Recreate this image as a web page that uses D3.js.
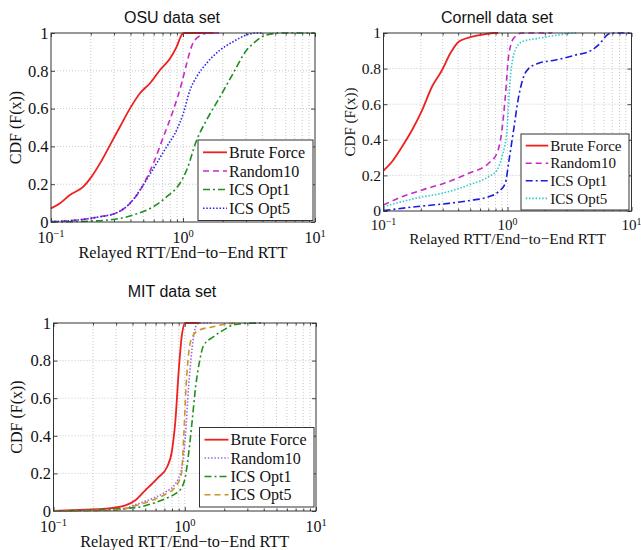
<!DOCTYPE html>
<html>
<head>
<meta charset="utf-8">
<script src="https://cdn.jsdelivr.net/npm/d3@7"></script>
<style>
  body { margin: 0; background: #fff; }
  svg { display: block; }
</style>
</head>
<body>
<div id="chart"></div>
<script>
const seriesNames = ["Brute Force", "Random10", "ICS Opt1", "ICS Opt5"];
const panelTitles = ["OSU data set", "Cornell data set", "MIT data set"];
const xLabel = "Relayed RTT/End\u2212to\u2212End RTT";
const yLabel = "CDF (F(x))";
const xTickValues = [0.1, 1, 10];
const xTickExponents = ["\u22121", "0", "1"];
const yTickValues = [0, 0.2, 0.4, 0.6, 0.8, 1];

// OSU curves, [ratio, cdf]
const osuBrute = [[0.1,0.072],[0.117,0.099],[0.139,0.143],[0.176,0.187],[0.203,0.24],[0.235,0.31],[0.28,0.407],[0.333,0.504],[0.397,0.601],[0.472,0.681],[0.562,0.734],[0.67,0.804],[0.80,0.866],[0.896,0.928],[0.977,0.99],[1.02,1.0],[1.7,1.0]];
const osuRandom = [[0.1,0.002],[0.176,0.014],[0.235,0.028],[0.315,0.049],[0.397,0.099],[0.50,0.196],[0.596,0.31],[0.71,0.45],[0.845,0.593],[0.977,0.734],[1.067,0.84],[1.16,0.928],[1.31,0.98],[1.6,1.0],[2.0,1.0]];
const osuOpt1 = [[0.1,0.0],[0.235,0.007],[0.42,0.037],[0.596,0.081],[0.753,0.134],[0.948,0.205],[1.067,0.275],[1.27,0.434],[1.51,0.54],[1.91,0.663],[2.40,0.787],[3.04,0.91],[3.41,0.945],[4.3,0.99],[5.7,1.0],[10,1.0]];
const osuOpt5 = [[0.1,0.002],[0.176,0.014],[0.235,0.028],[0.315,0.049],[0.397,0.099],[0.50,0.196],[0.63,0.31],[0.753,0.399],[0.896,0.487],[1.006,0.575],[1.13,0.698],[1.27,0.769],[1.51,0.84],[1.91,0.91],[2.40,0.954],[3.04,0.99],[3.6,1.0],[4.0,1.0]];

// Cornell curves
const cornellBrute = [[0.1,0.227],[0.117,0.277],[0.141,0.361],[0.17,0.455],[0.205,0.567],[0.246,0.698],[0.297,0.792],[0.346,0.886],[0.404,0.951],[0.518,0.979],[0.663,0.994],[0.78,1.0],[0.84,1.0]];
const cornellRandom = [[0.1,0.034],[0.141,0.08],[0.205,0.118],[0.336,0.165],[0.486,0.212],[0.705,0.268],[0.822,0.324],[0.902,0.455],[0.96,0.642],[1.02,0.867],[1.12,0.97],[1.31,1.0],[2.3,1.0]];
const cornellOpt1 = [[0.1,0.002],[0.181,0.024],[0.336,0.043],[0.486,0.058],[0.705,0.08],[0.848,0.109],[0.96,0.155],[1.02,0.268],[1.12,0.455],[1.23,0.642],[1.35,0.755],[1.48,0.80],[1.78,0.83],[2.43,0.848],[3.52,0.876],[4.79,0.904],[5.42,0.933],[6.52,0.994],[7.0,1.0],[10,1.0]];
const cornellOpt5 = [[0.1,0.024],[0.181,0.071],[0.336,0.109],[0.486,0.146],[0.705,0.193],[0.822,0.23],[0.902,0.305],[0.99,0.455],[1.05,0.736],[1.156,0.904],[1.31,0.951],[1.78,0.97],[2.58,0.989],[3.52,1.0],[3.6,1.0]];

// MIT curves
const mitBrute = [[0.1,0.0],[0.175,0.007],[0.249,0.012],[0.353,0.03],[0.421,0.057],[0.50,0.11],[0.564,0.145],[0.634,0.181],[0.733,0.234],[0.80,0.323],[0.849,0.482],[0.90,0.748],[0.954,0.943],[1.01,1.0],[1.3,1.0]];
const mitRandom = [[0.1,0.0],[0.314,0.007],[0.421,0.034],[0.564,0.066],[0.713,0.101],[0.849,0.145],[0.954,0.234],[1.01,0.394],[1.07,0.66],[1.14,0.872],[1.21,0.979],[1.29,1.0],[1.6,1.0]];
const mitOpt1 = [[0.1,0.0],[0.421,0.018],[0.564,0.039],[0.713,0.066],[0.849,0.092],[0.954,0.128],[1.01,0.181],[1.07,0.305],[1.14,0.482],[1.21,0.66],[1.30,0.80],[1.39,0.88],[1.65,0.926],[2.0,0.965],[2.35,0.99],[3.0,0.998],[4.0,1.0]];
const mitOpt5 = [[0.1,0.0],[0.314,0.005],[0.421,0.028],[0.564,0.057],[0.713,0.089],[0.849,0.128],[0.943,0.199],[0.982,0.394],[1.023,0.66],[1.07,0.837],[1.14,0.926],[1.28,0.961],[1.61,0.979],[2.16,0.996],[2.6,1.0]];

const width = 641;
const height = 550;
const serif = "'Liberation Serif', 'Times New Roman', serif";
const sans = "'Liberation Sans', Arial, Helvetica, sans-serif";

const panels = [
  {
    title: panelTitles[0],
    data: [osuBrute, osuRandom, osuOpt1, osuOpt5],
    styles: [
      { color: "#ee2020", dash: null },
      { color: "#c52cc5", dash: "6,4" },
      { color: "#1f8f1f", dash: "7,3,2,3" },
      { color: "#2626ee", dash: "1.5,1.8" }
    ],
    box: { x0: 51, x1: 315, y0: 33, y1: 222 },
    s: 1, titleX: 172, titleY: 23, ylabX: 21,
    legend: { x0: 198, y0: 140, x1: 313, y1: 220.5 }
  },
  {
    title: panelTitles[1],
    data: [cornellBrute, cornellRandom, cornellOpt1, cornellOpt5],
    styles: [
      { color: "#ee2020", dash: null },
      { color: "#c52cc5", dash: "6,4" },
      { color: "#1c1ce0", dash: "7,3,2,3" },
      { color: "#2ccccc", dash: "1.5,1.8" }
    ],
    box: { x0: 383.5, x1: 631.5, y0: 33, y1: 211 },
    s: 0.94, titleX: 497, titleY: 23, ylabX: 355,
    legend: { x0: 521, y0: 134, x1: 629, y1: 210 }
  },
  {
    title: panelTitles[2],
    data: [mitBrute, mitRandom, mitOpt1, mitOpt5],
    styles: [
      { color: "#ee2020", dash: null },
      { color: "#9a6ae6", dash: "1.5,1.8" },
      { color: "#1f8f1f", dash: "7,3,2,3" },
      { color: "#cf9428", dash: "6,4" }
    ],
    box: { x0: 53.5, x1: 316, y0: 323, y1: 511 },
    s: 1, titleX: 172, titleY: 297, ylabX: 22,
    legend: { x0: 199.5, y0: 427.5, x1: 314, y1: 507 }
  }
];

const svg = d3.select("#chart")
  .append("svg")
  .attr("width", width)
  .attr("height", height);

function drawPanel(p) {
  const b = p.box;
  const s = p.s;

  const x = d3.scaleLog().domain([0.1, 10]).range([b.x0, b.x1]);
  const y = d3.scaleLinear().domain([0, 1]).range([b.y1, b.y0]);

  const g = svg.append("g");

  // dotted grid, at every log tick inside the box
  const xGrid = x.ticks().filter(v => v > 0.1 && v < 10);
  g.selectAll(".xgrid")
    .data(xGrid)
    .enter()
    .append("line")
    .attr("x1", d => x(d)).attr("x2", d => x(d))
    .attr("y1", b.y0).attr("y2", b.y1)
    .attr("stroke", "#bdbdbd")
    .attr("stroke-width", 0.8)
    .attr("stroke-dasharray", "1,2");

  g.selectAll(".ygrid")
    .data(yTickValues.filter(v => v > 0 && v < 1))
    .enter()
    .append("line")
    .attr("x1", b.x0).attr("x2", b.x1)
    .attr("y1", d => y(d)).attr("y2", d => y(d))
    .attr("stroke", "#bdbdbd")
    .attr("stroke-width", 0.8)
    .attr("stroke-dasharray", "1,2");

  // inner tick marks on all four sides
  const minor = x.ticks().filter(v => xTickValues.indexOf(v) < 0);
  const tickAxes = [
    [d3.axisBottom(x).tickValues(xTickValues).tickSize(-4), `translate(0,${b.y1})`],
    [d3.axisBottom(x).tickValues(minor).tickSize(-2.5), `translate(0,${b.y1})`],
    [d3.axisTop(x).tickValues(xTickValues).tickSize(-4), `translate(0,${b.y0})`],
    [d3.axisTop(x).tickValues(minor).tickSize(-2.5), `translate(0,${b.y0})`],
    [d3.axisRight(y).tickValues(yTickValues).tickSize(-4), `translate(${b.x1},0)`]
  ];
  tickAxes.forEach(([ax, tr]) => {
    const a = g.append("g").attr("transform", tr).call(ax.tickFormat(""));
    a.select(".domain").remove();
    a.selectAll("line").attr("stroke", "#444");
  });

  const yAxis = g.append("g")
    .attr("transform", `translate(${b.x0},0)`)
    .call(d3.axisLeft(y)
      .tickValues(yTickValues)
      .tickSize(-4)
      .tickPadding(2.5)
      .tickFormat(d => (d === 0 || d === 1) ? String(d) : d3.format(".1f")(d)));
  yAxis.select(".domain").remove();
  yAxis.selectAll("line").attr("stroke", "#444");
  yAxis.selectAll("text")
    .style("font-family", serif)
    .style("font-size", (16.5 * s) + "px")
    .attr("fill", "#111");

  // 10^n labels under the x axis
  const xl = g.selectAll(".xtick-label")
    .data(xTickValues)
    .enter()
    .append("text")
    .attr("x", d => x(d))
    .attr("y", b.y1 + 20.5 * s)
    .attr("text-anchor", "middle")
    .style("font-family", serif)
    .style("font-size", (16 * s) + "px")
    .attr("fill", "#111");
  xl.append("tspan").text("10");
  xl.append("tspan")
    .attr("dy", -6 * s)
    .style("font-size", (10.5 * s) + "px")
    .text((d, i) => xTickExponents[i]);

  // curves
  const line = d3.line()
    .x(d => x(d[0]))
    .y(d => y(d[1]))
    .curve(d3.curveMonotoneX);

  p.data.forEach((series, i) => {
    const st = p.styles[i];
    g.append("path")
      .datum(series)
      .attr("fill", "none")
      .attr("stroke", st.color)
      .attr("stroke-width", i === 0 ? 1.8 : 1.6)
      .attr("stroke-dasharray", st.dash)
      .attr("d", line);
  });

  // axes box
  g.append("rect")
    .attr("x", b.x0).attr("y", b.y0)
    .attr("width", b.x1 - b.x0).attr("height", b.y1 - b.y0)
    .attr("fill", "none")
    .attr("stroke", "#333")
    .attr("stroke-width", 1);

  // legend
  const L = p.legend;
  g.append("rect")
    .attr("x", L.x0).attr("y", L.y0)
    .attr("width", L.x1 - L.x0).attr("height", L.y1 - L.y0)
    .attr("fill", "#fff")
    .attr("stroke", "#333")
    .attr("stroke-width", 1);

  const rowStep = (L.y1 - L.y0 - 6 * s) / 4;
  const rows = g.selectAll(".legend-row")
    .data(seriesNames)
    .enter()
    .append("g")
    .attr("transform", (d, i) => `translate(${L.x0},${L.y0 + 3 * s + rowStep * (i + 0.5)})`);

  rows.append("line")
    .attr("x1", 5 * s).attr("x2", 29 * s)
    .attr("y1", 0).attr("y2", 0)
    .attr("stroke", (d, i) => p.styles[i].color)
    .attr("stroke-width", (d, i) => i === 0 ? 1.8 : 1.6)
    .attr("stroke-dasharray", (d, i) => p.styles[i].dash);

  rows.append("text")
    .attr("x", 31 * s)
    .attr("dy", "0.35em")
    .style("font-family", serif)
    .style("font-size", (16 * s) + "px")
    .attr("fill", "#111")
    .text(d => d);

  // titles and axis labels
  g.append("text")
    .attr("x", p.titleX)
    .attr("y", p.titleY)
    .attr("text-anchor", "middle")
    .style("font-family", sans)
    .style("font-size", "16px")
    .attr("fill", "#111")
    .text(p.title);

  g.append("text")
    .attr("x", (b.x0 + b.x1) / 2)
    .attr("y", b.y1 + 35.5 * s)
    .attr("text-anchor", "middle")
    .style("font-family", serif)
    .style("font-size", (16.3 * s) + "px")
    .attr("fill", "#111")
    .text(xLabel);

  g.append("text")
    .attr("transform", `translate(${p.ylabX},${(b.y0 + b.y1) / 2}) rotate(-90)`)
    .attr("text-anchor", "middle")
    .style("font-family", serif)
    .style("font-size", (16 * s) + "px")
    .attr("fill", "#111")
    .text(yLabel);
}

panels.forEach(drawPanel);
</script>
</body>
</html>
